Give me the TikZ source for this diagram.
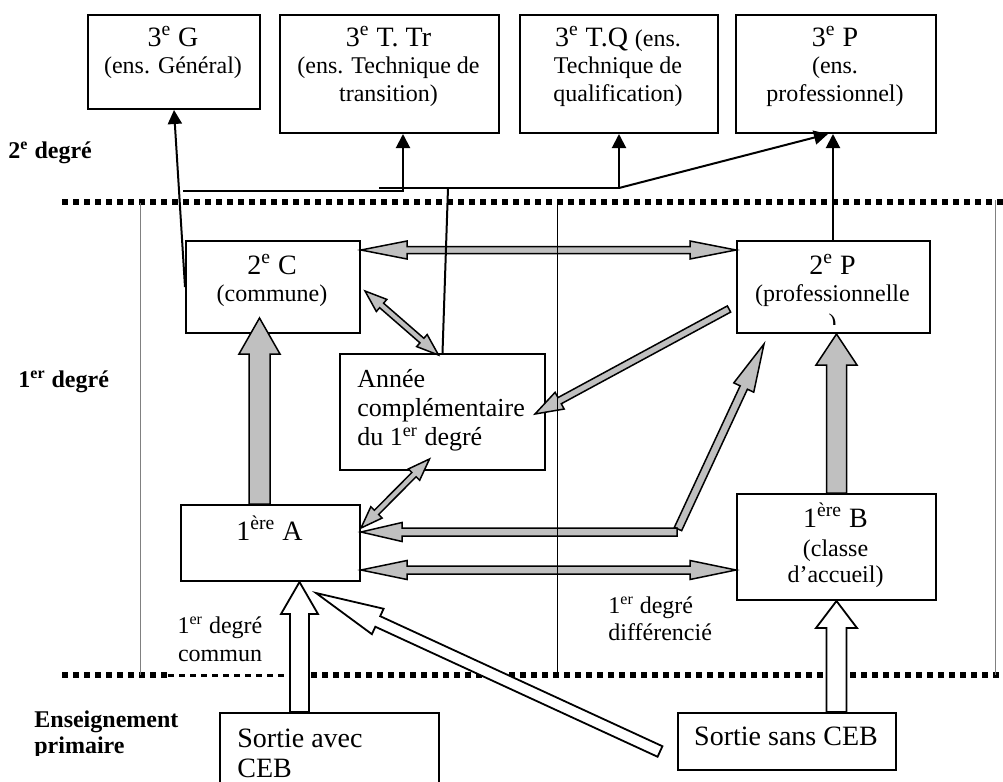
\documentclass[tikz,border=0pt]{standalone}
\usepackage{fontspec}
\setmainfont{Liberation Serif}
\usetikzlibrary{calc,arrows.meta}
\definecolor{arrgray}{RGB}{192,192,192}
\definecolor{sepgray}{RGB}{128,128,128}
% single block arrow: style, tail, tip, half shaft, half head, head length
\newcommand\blkone[6]{%
  \coordinate (bkH) at ($(#3)!#6!(#2)$);
  \filldraw[#1] ($(#2)!#4!90:(#3)$) -- ($(bkH)!#4!90:(#3)$) -- ($(bkH)!#5!90:(#3)$) -- (#3)
    -- ($(bkH)!#5!-90:(#3)$) -- ($(bkH)!#4!-90:(#3)$) -- ($(#2)!#4!-90:(#3)$) -- cycle;}
% double block arrow
\newcommand\blktwo[6]{%
  \coordinate (bkP) at ($(#2)!#6!(#3)$);
  \coordinate (bkQ) at ($(#3)!#6!(#2)$);
  \filldraw[#1] (#2) -- ($(bkP)!#5!90:(#3)$) -- ($(bkP)!#4!90:(#3)$) -- ($(bkQ)!#4!90:(#3)$)
    -- ($(bkQ)!#5!90:(#3)$) -- (#3) -- ($(bkQ)!#5!-90:(#3)$) -- ($(bkQ)!#4!-90:(#3)$)
    -- ($(bkP)!#4!-90:(#3)$) -- ($(bkP)!#5!-90:(#3)$) -- cycle;}
\tikzset{
 bx/.style={draw, line width=1pt, fill=white, inner sep=0pt, anchor=north west},
 tA/.style={font=\fontsize{14}{16}\selectfont, anchor=base, inner sep=0pt},
 tB/.style={font=\fontsize{12}{14}\selectfont, anchor=base, inner sep=0pt},
 tBw/.style={font=\fontsize{12}{14}\selectfont, anchor=base west, inner sep=0pt},
 tC/.style={font=\fontsize{13}{15}\selectfont, anchor=base west, inner sep=0pt},
 tAw/.style={font=\fontsize{14}{16}\selectfont, anchor=base west, inner sep=0pt},
 lab/.style={font=\bfseries\fontsize{12}{14}\selectfont, anchor=base west, inner sep=0pt},
 conn/.style={line width=1pt, -{Triangle[width=7pt,length=7pt]}},
 thinln/.style={line width=1pt},
 garr/.style={fill=arrgray, draw=black, line width=0.75pt, line join=miter},
 warr/.style={fill=white, draw=black, line width=0.9pt, line join=miter},
 dots/.style={line width=3pt, dash pattern=on 3pt off 2.5pt},
 thindots/.style={line width=1.5pt, dash pattern=on 3pt off 2.5pt},
 sepline/.style={line width=0.5pt},
}
\begin{document}
\begin{tikzpicture}[x=0.5pt,y=-0.5pt]
\fill[white] (0,0) rectangle (1003,782);
\useasboundingbox (0,0) rectangle (1003,782);

% dotted level lines
\draw[dots] (62,202) -- (1003,202);
\draw[dots] (62,675) -- (168,675);
\draw[thindots] (168,675) -- (289,675);
\draw[dots] (289,675) -- (1003,675);

% boxes
\node[bx, minimum width=86pt, minimum height=47pt] (g3) at (87,14) {};
\node[bx, minimum width=109.5pt, minimum height=59pt] (ttr) at (279,14) {};
\node[bx, minimum width=99pt, minimum height=59pt] (tq) at (519,14) {};
\node[bx, minimum width=100pt, minimum height=59pt] (p3) at (735,14) {};
\node[bx, minimum width=87pt, minimum height=46pt] (c2) at (185,240) {};
\node[bx, minimum width=96.5pt, minimum height=46pt] (p2) at (736,240) {};
\node[bx, minimum width=102.5pt, minimum height=58pt] (an) at (339,353) {};
\node[bx, minimum width=89.5pt, minimum height=38pt] (a1) at (180,504) {};
\node[bx, minimum width=99.5pt, minimum height=53pt] (b1) at (736,493) {};
\node[bx, minimum width=109.5pt, minimum height=50pt] (sa) at (219,712) {};
\node[bx, minimum width=109pt, minimum height=28.5pt] (ss) at (677,712) {};

% box texts
\node[tA] (g3a) at (173,46) {3\textsuperscript{e} G};
\node[tB] (g3b) at (173,73) {(ens. Général)};
\node[tA] (ttra) at (388.5,46) {3\textsuperscript{e} T. Tr};
\node[tB] (ttrb) at (388.5,73) {(ens. Technique de};
\node[tB] (ttrc) at (388.5,101) {transition)};
\node[tA] (tqa) at (618,46) {3\textsuperscript{e} T.Q {\fontsize{12}{14}\selectfont (ens.}};
\node[tB] (tqb) at (618,73) {Technique de};
\node[tB] (tqc) at (618,101) {qualification)};
\node[tA] (p3a) at (835,46) {3\textsuperscript{e} P};
\node[tB] (p3b) at (835,73) {(ens.};
\node[tB] (p3c) at (835,101) {professionnel)};
\node[tA] (c2a) at (272,274) {2\textsuperscript{e} C};
\node[tB] (c2b) at (272,301) {(commune)};
\node[tA] (p2a) at (832.5,274) {2\textsuperscript{e} P};
\node[tB] (p2b) at (832.5,301) {(professionnelle};
\begin{scope}
\clip (736,240) rectangle (929,324);
\node[tB] (p2c) at (832.5,330) {)};
\end{scope}
\node[tC] (ana) at (357,387) {Année};
\node[tC] (anb) at (357,416) {complémentaire};
\node[tC] (anc) at (357,445) {du 1\textsuperscript{er} degré};
\node[tA] (a1a) at (269.5,540) {1\textsuperscript{ère} A};
\node[tA] (b1a) at (835.5,527) {1\textsuperscript{ère} B};
\node[tB] (b1b) at (835.5,556) {(classe};
\node[tB] (b1c) at (835.5,582) {d’accueil)};
\node[tAw] (saa) at (237,747) {Sortie avec};
\node[tAw] (sab) at (237,777) {CEB};
\node[tA] (ssa) at (786,745) {Sortie sans CEB};

% grey block arrows
\coordinate (g1a) at (c2.east |- 0,250);
\coordinate (g1b) at (p2.west |- 0,250);
\blktwo{garr}{g1a}{g1b}{1.75pt}{4.5pt}{23pt}
\coordinate (g2a) at ($(c2.east)+(4,4)$);
\coordinate (g2b) at ($(an.north)+(-4,2)$);
\blktwo{garr}{g2a}{g2b}{1.5pt}{4pt}{11pt}
\coordinate (g3s) at ($(p2.west)+(-7,22)$);
\coordinate (g3t) at ($(an.east)+(-11,2)$);
\blkone{garr}{g3s}{g3t}{1.75pt}{4.75pt}{14pt}
\coordinate (g4a) at ($(an.south)+(-13,-12)$);
\coordinate (g4b) at ($(a1.east)+(0,-15)$);
\blktwo{garr}{g4a}{g4b}{1.5pt}{4pt}{11pt}
\coordinate (bend) at (678,529);
\coordinate (g5t) at ($(p2.south west)+(28,10)$);
\blkone{garr}{bend}{g5t}{2pt}{5.5pt}{24pt}
\coordinate (bendh) at (677,532);
\coordinate (g5h) at (a1.east |- bendh);
\blkone{garr}{bendh}{g5h}{2pt}{4.75pt}{20.5pt}
\coordinate (g6a) at (a1.east |- 0,570);
\coordinate (g6b) at (b1.west |- 0,570);
\blktwo{garr}{g6a}{g6b}{2pt}{4.75pt}{23pt}
\coordinate (g7s) at ($(a1.north)+(-11,0)$);
\coordinate (g7t) at ($(c2.south)+(-13.5,-16)$);
\blkone{garr}{g7s}{g7t}{5.25pt}{10.25pt}{18pt}
\coordinate (g8t) at (b1.north |- p2.south);
\blkone{garr}{b1.north}{g8t}{5pt}{10.25pt}{15.5pt}

% white block arrows
\coordinate (w1s) at ($(sa.north)+(-30,0)$);
\coordinate (w1t) at (w1s |- a1.south);
\blkone{warr}{w1s}{w1t}{4.75pt}{9.25pt}{16pt}
\coordinate (w2s) at (b1.south |- ss.north);
\blkone{warr}{w2s}{b1.south}{5pt}{10.25pt}{13.5pt}
\coordinate (w3s) at ($(ss.west)+(-17,10)$);
\coordinate (w3t) at ($(a1.south)+(45.5,11)$);
\blkone{warr}{w3s}{w3t}{2.9pt}{7pt}{34pt}

% separator lines
\draw[sepline, sepgray] (140,203) -- (140,675);
\draw[sepline] (557,203) -- (557,675);
\draw[sepline, sepgray] (995,200) -- (995,675);

% thin connectors
\draw[conn] (c2.west) -- (g3.south);
\coordinate (j1) at (183,191);
\coordinate (ttrin) at ($(ttr.south)+(13.5,0)$);
\draw[conn] (j1) -| (ttrin);
\coordinate (j2) at (379,188);
\coordinate (j3) at (tq.south |- j2);
\draw[conn] (j2) -- (j3) -- (tq.south);
\coordinate (p3in) at ($(p3.south)+(-8,0)$);
\draw[conn] (j3) -- (p3in);
\coordinate (j4) at (448,188);
\draw[thinln] (an.north) -- (j4);
\coordinate (p2top) at (833,240);
\draw[conn] (p2top) -- (p2top |- p3.south);

% level labels
\node[lab] (l2) at (8,158) {2\textsuperscript{e} degré};
\node[lab] (l1) at (18,387) {1\textsuperscript{er} degré};
\node[lab] (lp1) at (34,727) {Enseignement};
\begin{scope}
\clip (0,700) rectangle (210,755);
\node[lab] (lp2) at (34,753) {primaire};
\end{scope}
\node[tB] (dc1) at (220,633) {1\textsuperscript{er} degré};
\node[tB] (dc2) at (220,661) {commun};
\node[tBw] (dd1) at (608,613) {1\textsuperscript{er} degré};
\node[tBw] (dd2) at (608,640) {différencié};
\end{tikzpicture}
\end{document}
